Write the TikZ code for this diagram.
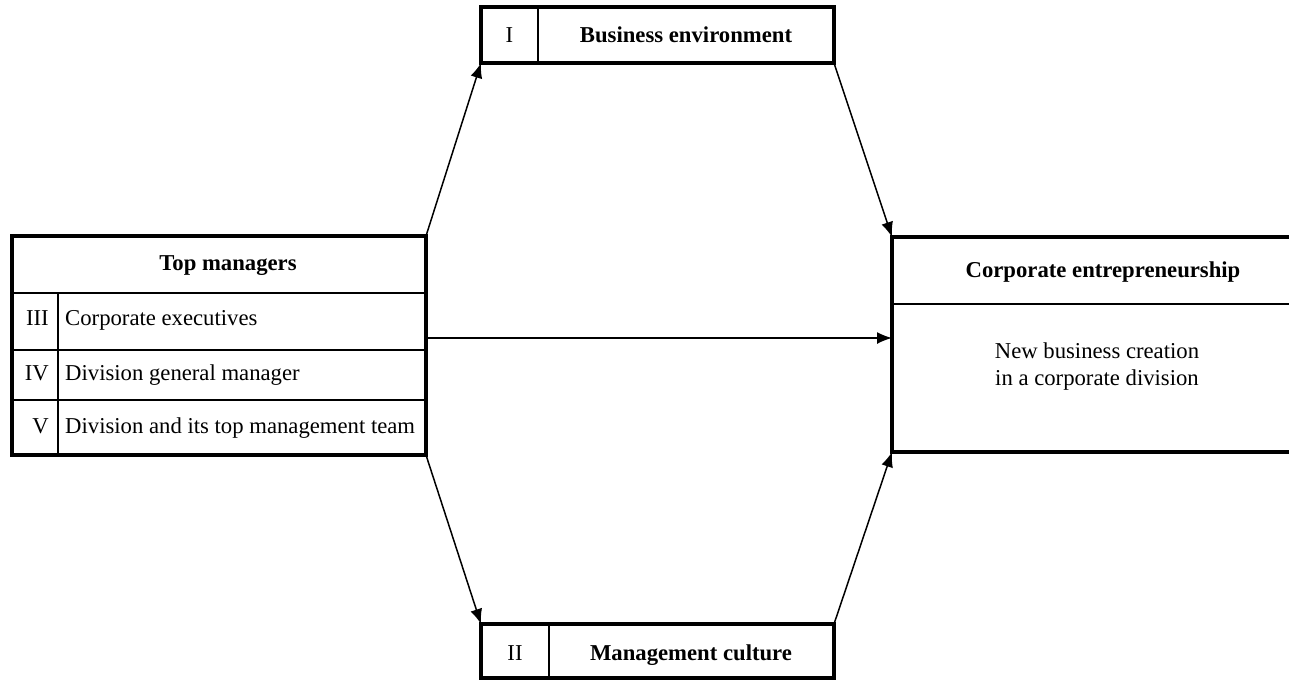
\documentclass[tikz,border=0pt]{standalone}
\usepackage{fontspec}
\setmainfont{Liberation Serif}
\usetikzlibrary{positioning, arrows.meta, calc}

\begin{document}
\begin{tikzpicture}[
    x=1pt, y=-1pt,
    font=\fontsize{22.7}{27}\selectfont,
    box/.style={
        rectangle,
        draw,
        line width=4.5pt,
        inner sep=0pt,
        outer sep=0pt
    },
    cell/.style={line width=1.5pt},
    txt/.style={inner sep=0pt},
    head/.style={inner sep=0pt, font=\fontsize{22.7}{27}\selectfont\bfseries},
    msg/.style={-{Latex[length=15pt, width=12pt]}, line width=1.5pt}
]

\useasboundingbox (0,0) rectangle (1289,680);

\def\xl{12}
\def\xr{426}
\def\xn{58}

% Top managers
\draw[cell] (\xl, 293) -- (\xr, 293);
\draw[cell] (\xl, 350) -- (\xr, 350);
\draw[cell] (\xl, 400) -- (\xr, 400);
\draw[cell] (\xn, 293) -- (\xn, 455);
\node[box, minimum width=414pt, minimum height=219pt] (tm) at (219, 345.5) {};
\node[head, anchor=base] (tmh) at (228, 270) {Top managers};
\node[txt, anchor=base east] (n3) at (49, 325) {III};
\node[txt, anchor=base west] (t3) at (65, 325) {Corporate executives};
\node[txt, anchor=base east] (n4) at (49, 380) {IV};
\node[txt, anchor=base west] (t4) at (65, 380) {Division general manager};
\node[txt, anchor=base east] (n5) at (49, 433) {V};
\node[txt, anchor=base west] (t5) at (65, 433) {Division and its top management team};

% Business environment
\draw[cell] (538, 7) -- (538, 63);
\node[box, minimum width=353pt, minimum height=56pt] (be) at (657.5, 35) {};
\node[txt, anchor=base] (n1) at (509.5, 42) {I};
\node[head, anchor=base] (beh) at (686, 42) {Business environment};

% Management culture
\draw[cell] (549, 624) -- (549, 678);
\node[box, minimum width=353pt, minimum height=54pt] (mc) at (657.5, 651) {};
\node[txt, anchor=base] (n2) at (515, 660) {II};
\node[head, anchor=base] (mch) at (691, 660) {Management culture};

% Corporate entrepreneurship
\draw[cell] (892, 304) -- (1300, 304);
\node[box, minimum width=408pt, minimum height=215pt] (ce) at (1096, 344.5) {};
\node[head, anchor=base] (ceh) at (1103, 277) {Corporate entrepreneurship};
\node[txt, anchor=base, align=center] (cet) at (1097, 385) {New business creation\\in a corporate division};

% Arrows
\coordinate (mid) at (0, 338);
\draw[msg] (tm.north east) -- (be.south west);
\draw[msg] (tm.south east) -- (mc.north west);
\draw[msg] (be.south east) -- (ce.north west);
\draw[msg] (mc.north east) -- (ce.south west);
\draw[msg] (tm.east |- mid) -- (ce.west |- mid);

\end{tikzpicture}
\end{document}
